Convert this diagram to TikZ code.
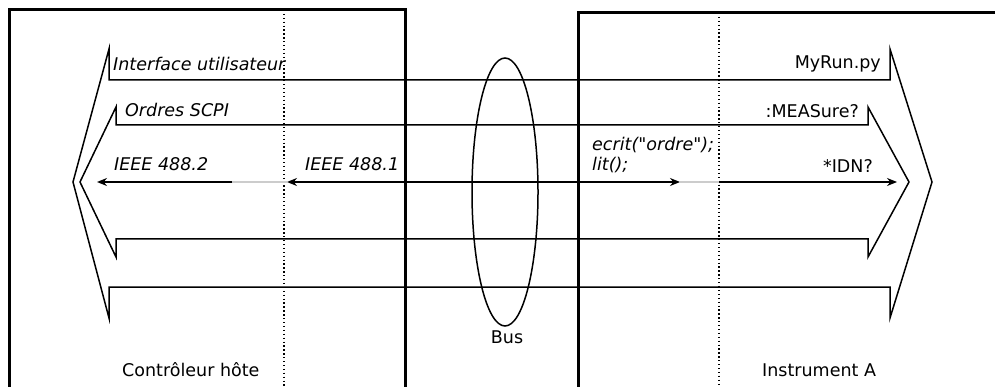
\documentclass[tikz,border=0pt]{standalone}
\usepackage{fontspec}
\setmainfont{DejaVu Sans}[Ligatures=TeXOff]
\usetikzlibrary{arrows.meta}
\tikzset{
  boxline/.style={line width=3pt},
  thin/.style={line width=1.5pt},
  dotline/.style={line width=1.4pt, dash pattern=on 1.3pt off 2.6pt},
  arr/.style={thin, -{Stealth[length=10pt,width=8pt]}},
  txt/.style={inner sep=0pt, font=\fontsize{17.5}{20}\selectfont},
  itxt/.style={txt, font=\fontsize{17.5}{20}\selectfont\itshape},
}
\begin{document}
\begin{tikzpicture}[x=1pt,y=-1pt]
\useasboundingbox (0,0) rectangle (995,387);
% boxes
\draw[boxline] (9,390) -- (9,10) -- (405,10) -- (405,390);
\draw[boxline] (578,390) -- (578,13) -- (998,13);
% dotted separators
\draw[dotline] (284,10) -- (284,387);
\draw[dotline] (719,13) -- (719,387);
% outer double arrow
\draw[thin, line join=miter] (109,49) -- (109,80) -- (890,80) -- (890,49) -- (932,182) -- (890,318) -- (890,287) -- (109,287) -- (109,318) -- (73,182) -- cycle;
% inner double arrow
\draw[thin, line join=miter] (116,107) -- (116,125) -- (868,125) -- (868,107) -- (909,182) -- (868,257) -- (868,239) -- (116,239) -- (116,257) -- (80,182) -- cycle;
% middle arrows
\coordinate (l1) at (97,182);
\coordinate (l2) at (232,182);
\coordinate (l3) at (287,182);
\coordinate (r1) at (680,182);
\coordinate (r2) at (719,182);
\coordinate (r3) at (897,182);
\draw[thin, gray!40] (l2) -- (l3);
\draw[thin, gray!40] (r1) -- (r2);
\draw[arr] (l2) -- (l1);
\draw[thin, {Stealth[length=10pt,width=8pt]}-{Stealth[length=10pt,width=8pt]}] (l3) -- (r1);
\draw[arr] (r2) -- (r3);
% bus ellipse
\draw[thin] (505,192) ellipse [x radius=33, y radius=134];
% texts
\node[itxt, anchor=base west] (iu) at (113,71) {Interface utilisateur};
\node[itxt, anchor=base west] (os) at (125,117) {Ordres SCPI};
\node[itxt, anchor=base west] (i2) at (114,171) {IEEE 488.2};
\node[itxt, anchor=base west] (i1) at (305,171) {IEEE 488.1};
\node[itxt, anchor=base west] (ec) at (592,151) {ecrit("ordre");};
\node[itxt, anchor=base west] (li) at (592,171) {lit();};
\node[txt, anchor=base east] (mr) at (881,69) {MyRun.py};
\node[txt, anchor=base east] (me) at (859,118) {:MEASure?};
\node[txt, anchor=base east] (id) at (873,173) {*IDN?};
\node[txt, anchor=base west] (ch) at (122,376) {Contrôleur hôte};
\node[txt, anchor=base] (bus) at (507,343) {Bus};
\node[txt, anchor=base west] (ia) at (762,376) {Instrument A};
\end{tikzpicture}
\end{document}
